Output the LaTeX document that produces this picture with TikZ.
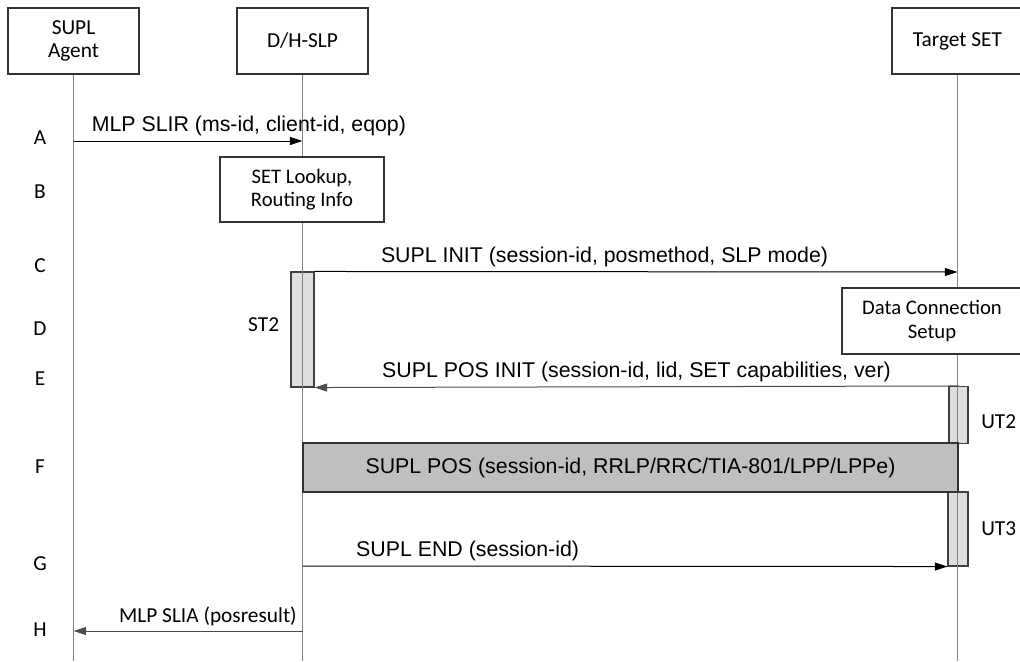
\documentclass[tikz,border=0pt]{standalone}
\usepackage{fontspec}
\setmainfont{Liberation Sans}
\newfontfamily\calibri{Carlito}
\usetikzlibrary{arrows.meta, positioning}

\begin{document}
\begin{tikzpicture}[x=0.75pt, y=-0.75pt,
    font=\fontsize{16}{19}\selectfont,
    party/.style={draw=black!80, fill=white, line width=0.8pt, align=center,
      minimum width=98.25pt, minimum height=49.5pt,
      font=\calibri\fontsize{16}{17.5}\selectfont},
    note/.style={draw=black!80, fill=white, line width=0.8pt, align=center,
      font=\calibri\fontsize{15.5}{17.5}\selectfont},
    timer/.style={draw=black!75, fill=black!13, line width=0.8pt, inner sep=0pt},
    lifeline/.style={draw=black!50, line width=1pt},
    msg/.style={-{Triangle[length=9.5pt, width=6pt]}, line width=0.75pt},
    calib/.style={font=\calibri\fontsize{16}{19}\selectfont}]
  \useasboundingbox (0,0) rectangle (1020,661);

  \foreach \l/\y in {A/138, B/192, C/266, D/329, E/379, F/467, G/564, H/630}
    \node (phase \l) [calib] at (40,\y) {\l};

  \node (agent) [party] at (73.5,41) {SUPL\\Agent};
  \node (slp) [party] at (302.5,41) {D/H-SLP};
  \node (set) [party] at (957.5,41) {Target SET};

  \node (st2) [timer, minimum width=17.25pt, minimum height=86.25pt] at (302.5,329.5) {};
  \node (ut2) [timer, minimum width=14.25pt, minimum height=42.75pt] at (958.5,415) {};
  \node (ut3) [timer, minimum width=15pt, minimum height=55.5pt] at (958,529) {};
  \node (st2 label) [calib, left=5pt of st2, yshift=4pt] {ST2};
  \node (ut2 label) [calib, right=6pt of ut2, yshift=-5pt] {UT2};
  \node (ut3 label) [calib, right=6pt of ut3] {UT3};

  \coordinate (agent end) at (73.5,661);
  \coordinate (slp end) at (302.5,661);
  \coordinate (set end) at (957.5,661);
  \draw [lifeline] (agent) -- (agent end);
  \draw [lifeline] (slp) -- (slp end);
  \draw [lifeline] (set) -- (set end);

  \node (lookup) [note, minimum width=123pt, minimum height=48.75pt] at (302,189.5) {SET Lookup,\\Routing Info};
  \node (dcs) [note, minimum width=135pt, minimum height=49.5pt] at (932,321) {Data Connection\\Setup};
  \node (pos) [draw=black!80, fill=black!25, line width=0.8pt, inner sep=0pt,
    minimum width=491.25pt, minimum height=36.75pt] at (630.5,467.5)
    {SUPL POS (session-id, RRLP/RRC/TIA-801/LPP/LPPe)};

  \coordinate (agent a) at (73.5,141);
  \coordinate (slp a) at (302.5,141);
  \coordinate (set c) at (957.5,272);
  \coordinate (slp g) at (302.5,566);
  \coordinate (slp h) at (302.5,631);
  \coordinate (agent h) at (73.5,631);

  \path [msg]
    (agent a) edge node [pos=0.766, above] {MLP SLIR (ms-id, client-id, eqop)} (slp a)
    (st2.north east) edge node [pos=0.451, above] {SUPL INIT (session-id, posmethod, SLP mode)} (set c)
    (slp g) edge node [pos=0.256, above] {SUPL END (session-id)} (ut3.south west);
  \path [msg, color=black!70]
    (ut2.north) edge node [above, text=black] {SUPL POS INIT (session-id, lid, SET capabilities, ver)} (st2.south east)
    (slp h) edge node [pos=0.413, above, calib, text=black] {MLP SLIA (posresult)} (agent h);
\end{tikzpicture}
\end{document}
